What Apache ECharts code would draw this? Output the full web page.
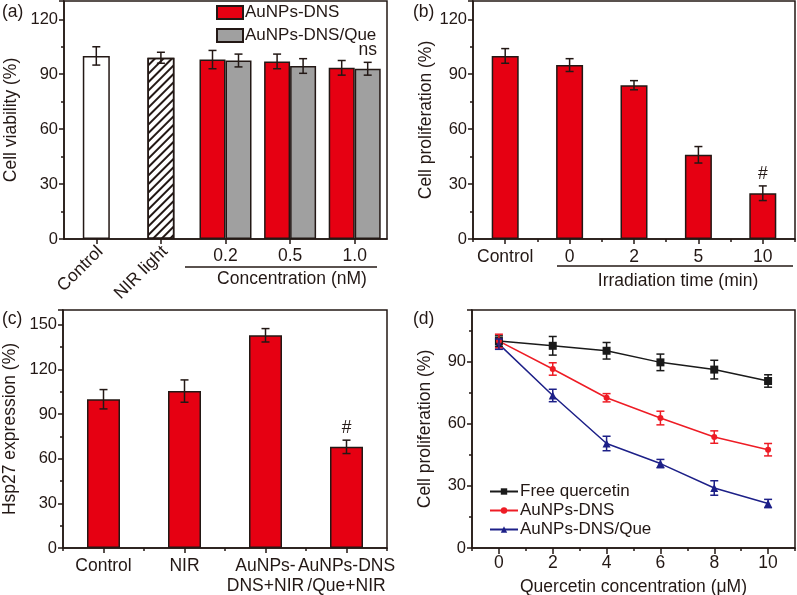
<!DOCTYPE html>
<html>
<head>
<meta charset="utf-8">
<title>ECharts</title>
<script src="https://cdn.jsdelivr.net/npm/echarts@6/dist/echarts.min.js"></script>
</head>
<body style="margin:0;background:#fff">
<div id="main" style="width:797px;height:595px"></div>
<script type="text/javascript">
// (a) cell viability
var catsA = ['Control', 'NIR light', '0.2', '0.5', '1.0'];
var ctrlA = [100, 99];
var ctrlErrA = [5, 3];
var dnsA = [98, 97, 93.5];
var dnsErrA = [5, 4, 4];
var queA = [97.5, 94.5, 93];
var queErrA = [3.5, 4, 3.5];
var queNoteA = ['', '', 'ns'];
// (b) irradiation time
var catsB = ['Control', '0', '2', '5', '10'];
var valsB = [100, 95, 84, 46, 25];
var errB = [4, 3.5, 2.5, 4.5, 4];
var noteB = ['', '', '', '', '#'];
// (c) hsp27
var catsC = ['Control', 'NIR', 'AuNPs-\nDNS+NIR', 'AuNPs-DNS\n/Que+NIR'];
var valsC = [100, 105.5, 143, 68];
var errC = [6.5, 7.5, 4.5, 4.5];
var noteC = ['', '', '', '#'];
// (d) quercetin concentration
var xD = [0, 2, 4, 6, 8, 10];
var freeD = [100, 97.7, 95.3, 89.7, 86.2, 80.7];
var freeErrD = [2.5, 4.5, 4, 4, 4.5, 3];
var dnsD = [100, 86.5, 72.6, 62.8, 53.6, 47.5];
var dnsErrD = [3.3, 3, 2, 3.3, 3, 3];
var queD = [98.5, 73.7, 50.5, 40.8, 29, 21.5];
var queErrD = [2.5, 3, 3.5, 2, 3.5, 2];

var FONT = '"Liberation Sans", Arial, sans-serif';
var INK = '#231815';
var RED = '#e60012';
var GRAY = '#a0a0a0';
var TXT = 17.5;

var myChart = echarts.init(document.getElementById('main'));

function errBars(xi, yi, data, offset, color, notes) {
	return {
		type: 'custom', xAxisIndex: xi, yAxisIndex: yi, data: data, z: 5, silent: true,
		encode: {x: 0, y: [1, 2]},
		renderItem: function (params, api) {
			var x = api.value(0);
			var a = api.coord([x, api.value(1)]);
			var b = api.coord([x, api.value(2)]);
			var cx = a[0] + offset, w = 4;
			var st = {stroke: color, lineWidth: 1.5};
			var ch = [
				{type: 'line', shape: {x1: cx, y1: a[1], x2: cx, y2: b[1]}, style: st},
				{type: 'line', shape: {x1: cx - w, y1: a[1], x2: cx + w, y2: a[1]}, style: st},
				{type: 'line', shape: {x1: cx - w, y1: b[1], x2: cx + w, y2: b[1]}, style: st}
			];
			var n = notes && notes[params.dataIndex];
			if (n) {
				ch.push({type: 'text', x: cx, y: b[1] - 3, style: {text: n, fill: INK, font: TXT + 'px ' + FONT, align: 'center', verticalAlign: 'bottom'}});
			}
			return {type: 'group', children: ch};
		}
	};
}
function errData(xs, vals, errs) {
	return vals.map(function (v, i) { return [xs[i], v - errs[i], v + errs[i]]; });
}
function idx(arr, start) {
	return arr.map(function (v, i) { return i + start; });
}

var lineSt = {color: INK, width: 1.5};
function yAx(grid, max, name, gap) {
	return {
		type: 'value', gridIndex: grid, min: 0, max: max, interval: 30,
		name: name, nameLocation: 'middle', nameGap: gap,
		nameTextStyle: {fontSize: TXT, color: INK, fontFamily: FONT},
		axisLine: {show: true, onZero: false, lineStyle: lineSt},
		axisTick: {show: true, length: 5, lineStyle: lineSt},
		minorTick: {show: true, splitNumber: 2, length: 3, lineStyle: lineSt},
		splitLine: {show: false},
		axisLabel: {color: INK, fontSize: 16.5, fontFamily: FONT, margin: 6,
			formatter: function (v) { return v % 30 === 0 ? v : ''; }}
	};
}
function catAx(grid, data, main, extra) {
	var ax = {
		type: 'category', gridIndex: grid, data: data, position: 'bottom',
		axisLine: {show: main, onZero: false, lineStyle: lineSt},
		axisTick: {show: true, alignWithLabel: main, length: main ? 5 : 3, lineStyle: lineSt},
		axisLabel: {show: main, color: INK, fontSize: TXT, fontFamily: FONT, margin: 8, lineHeight: 20, interval: 0},
		splitLine: {show: false}
	};
	return Object.assign(ax, extra || {});
}
var barBorder = {borderColor: INK, borderWidth: 1.5};
function gridBox(l, t, w, h) {
	return {left: l, top: t, width: w, height: h, show: true, borderColor: INK, borderWidth: 1.5, outerBoundsMode: 'none', containLabel: false};
}

var option = {
	animation: false,
	textStyle: {fontFamily: FONT},
	grid: [
		gridBox(64, 1, 323, 238),
		gridBox(473, 1, 322, 238),
		gridBox(63, 310, 324, 238),
		gridBox(472, 310, 323, 238)
	],
	legend: [
		{data: ['AuNPs-DNS', 'AuNPs-DNS/Que'], left: 216, top: 4, orient: 'vertical', itemGap: 6,
		 itemWidth: 26, itemHeight: 13, icon: 'rect', padding: 0,
		 textStyle: {fontSize: 17, lineHeight: 14, color: INK, fontFamily: FONT, padding: [0, 0, 0, -3]}},
		{data: ['Free quercetin', 'AuNPs-DNS ', 'AuNPs-DNS/Que '], left: 484, top: 478, orient: 'vertical', itemGap: 2,
		 itemWidth: 28, itemHeight: 8,
		 textStyle: {fontSize: 17, color: INK, fontFamily: FONT, padding: [0, 0, 0, -3]}}
	],
	xAxis: [
		catAx(0, catsA, true, {axisLabel: {color: INK, fontSize: TXT, fontFamily: FONT, margin: 8, interval: 0,
			formatter: function (v, i) { return i >= 2 ? v : ''; }}}),
		catAx(0, catsA, false, {axisTick: {show: false}, axisLabel: {show: false}}),
		catAx(1, catsB, true),
		catAx(1, catsB, false),
		catAx(2, catsC, true),
		catAx(2, catsC, false),
		{type: 'value', gridIndex: 3, min: -1, max: 11, interval: 1, position: 'bottom',
		 axisLine: {show: true, onZero: false, lineStyle: lineSt},
		 axisTick: {show: true, length: 3, lineStyle: lineSt},
		 splitLine: {show: false},
		 axisLabel: {color: INK, fontSize: TXT, fontFamily: FONT, margin: 6,
			formatter: function (v) { return (v >= 0 && v <= 10 && v % 2 === 0) ? v : ''; }},
		 name: 'Quercetin concentration (\u03bcM)', nameLocation: 'middle', nameGap: 30,
		 nameTextStyle: {fontSize: TXT, color: INK, fontFamily: FONT}},
		{type: 'value', gridIndex: 3, min: -1, max: 11, position: 'bottom',
		 axisLine: {show: false, onZero: false},
		 axisTick: {show: true, length: 6, customValues: xD, lineStyle: lineSt},
		 axisLabel: {show: false}, splitLine: {show: false}}
	],
	yAxis: [
		yAx(0, 130, 'Cell viability (%)', 44),
		yAx(1, 130, 'Cell proliferation (%)', 38),
		yAx(2, 160, 'Hsp27 expression (%)', 44),
		yAx(3, 115, 'Cell proliferation (%)', 38)
	],
	graphic: [
		{type: 'text', left: 2, top: 3, style: {text: '(a)', font: TXT + 'px ' + FONT, fill: INK}},
		{type: 'text', left: 413, top: 3, style: {text: '(b)', font: TXT + 'px ' + FONT, fill: INK}},
		{type: 'text', left: 2, top: 310, style: {text: '(c)', font: TXT + 'px ' + FONT, fill: INK}},
		{type: 'text', left: 413, top: 310, style: {text: '(d)', font: TXT + 'px ' + FONT, fill: INK}},
		{type: 'line', shape: {x1: 185, y1: 267, x2: 377, y2: 267}, style: {stroke: INK, lineWidth: 1.5}},
		{type: 'text', x: 292, y: 270, style: {text: 'Concentration (nM)', font: TXT + 'px ' + FONT, fill: INK, align: 'center'}},
		{type: 'line', shape: {x1: 557, y1: 266, x2: 793, y2: 266}, style: {stroke: INK, lineWidth: 1.5}},
		{type: 'text', x: 678, y: 272, style: {text: 'Irradiation time (min)', font: TXT + 'px ' + FONT, fill: INK, align: 'center'}}
	],
	series: [
		// (a)
		{name: 'ctrl', type: 'bar', xAxisIndex: 1, yAxisIndex: 0, barWidth: 27,
		 data: [
			{value: ctrlA[0], itemStyle: {color: '#fff'}},
			{value: ctrlA[1], itemStyle: {color: '#fff', decal: {symbol: 'rect', symbolSize: 1, dashArrayX: [1, 0], dashArrayY: [1.5, 3.5], rotation: -Math.PI / 4, color: INK}}},
			'-', '-', '-'],
		 itemStyle: barBorder},
		{name: 'AuNPs-DNS', type: 'bar', xAxisIndex: 0, yAxisIndex: 0, barWidth: 26, barGap: 0,
		 data: ['-', '-'].concat(dnsA), itemStyle: Object.assign({color: RED}, barBorder)},
		{name: 'AuNPs-DNS/Que', type: 'bar', xAxisIndex: 0, yAxisIndex: 0, barWidth: 26, barGap: 0,
		 data: ['-', '-'].concat(queA), itemStyle: Object.assign({color: GRAY}, barBorder)},
		errBars(1, 0, errData(idx(ctrlA, 0), ctrlA, ctrlErrA), 0, INK),
		errBars(0, 0, errData(idx(dnsA, 2), dnsA, dnsErrA), -13, INK),
		errBars(0, 0, errData(idx(queA, 2), queA, queErrA), 13, INK, queNoteA),
		// slanted labels for the two reference bars
		{type: 'custom', xAxisIndex: 1, yAxisIndex: 0, silent: true,
		 data: idx(ctrlA, 0).map(function (i) { return [i, 0]; }),
		 renderItem: function (params, api) {
			var p = api.coord([api.value(0), 0]);
			return {type: 'text', x: p[0] + 4, y: p[1] + 10, rotation: Math.PI / 4,
				style: {text: catsA[params.dataIndex], font: TXT + 'px ' + FONT, fill: INK, align: 'right', verticalAlign: 'middle'}};
		 }},
		// (b)
		{name: 'b', type: 'bar', xAxisIndex: 2, yAxisIndex: 1, barWidth: 27, data: valsB,
		 itemStyle: Object.assign({color: RED}, barBorder)},
		errBars(2, 1, errData(idx(valsB, 0), valsB, errB), 0, INK, noteB),
		// (c)
		{name: 'c', type: 'bar', xAxisIndex: 4, yAxisIndex: 2, barWidth: 33, data: valsC,
		 itemStyle: Object.assign({color: RED}, barBorder)},
		errBars(4, 2, errData(idx(valsC, 0), valsC, errC), 0, INK, noteC),
		// (d)
		{name: 'Free quercetin', type: 'line', xAxisIndex: 6, yAxisIndex: 3, symbol: 'rect', symbolSize: 8,
		 data: xD.map(function (x, i) { return [x, freeD[i]]; }),
		 lineStyle: {color: '#1a1a1a', width: 1.5}, itemStyle: {color: '#1a1a1a'}},
		{name: 'AuNPs-DNS ', type: 'line', xAxisIndex: 6, yAxisIndex: 3, symbol: 'circle', symbolSize: 6,
		 data: xD.map(function (x, i) { return [x, dnsD[i]]; }),
		 lineStyle: {color: '#ee1c25', width: 1.5}, itemStyle: {color: '#ee1c25'}},
		{name: 'AuNPs-DNS/Que ', type: 'line', xAxisIndex: 6, yAxisIndex: 3, symbol: 'triangle', symbolSize: 8,
		 data: xD.map(function (x, i) { return [x, queD[i]]; }),
		 lineStyle: {color: '#1d2088', width: 1.5}, itemStyle: {color: '#1d2088'}},
		errBars(6, 3, errData(xD, freeD, freeErrD), 0, '#1a1a1a'),
		errBars(6, 3, errData(xD, dnsD, dnsErrD), 0, '#ee1c25'),
		errBars(6, 3, errData(xD, queD, queErrD), 0, '#1d2088')
	]
};
myChart.setOption(option);
</script>
</body>
</html>
